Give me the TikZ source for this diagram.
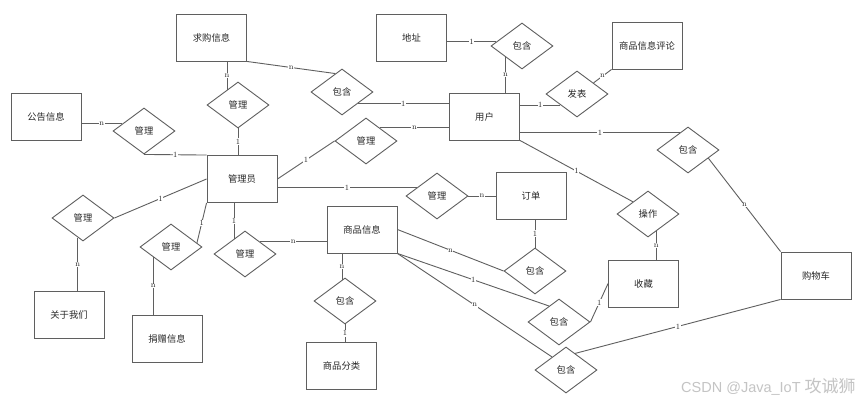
\documentclass[tikz,border=0pt]{standalone}
\usepackage{fontspec}
\newfontfamily\cjk{Noto Sans CJK SC}
\newfontfamily\wmlat{Liberation Sans}
\usetikzlibrary{shapes.geometric}
\definecolor{ln}{RGB}{95,95,95}
\definecolor{tx}{RGB}{40,40,40}
\definecolor{wm}{RGB}{196,196,196}
\begin{document}
\begin{tikzpicture}[x=1pt,y=-1pt,
  ent/.style={draw=ln, line width=0.9pt, fill=white, minimum width=70pt, minimum height=47pt, inner sep=0pt, font=\cjk\fontsize{9.3}{11}\selectfont, text=tx},
  rel/.style={diamond, draw=ln, line width=0.9pt, fill=white, minimum width=62pt, minimum height=46pt, inner sep=0pt, font=\cjk\fontsize{9.3}{11}\selectfont, text=tx},
  con/.style={draw=ln, line width=0.9pt},
  lbl/.style={fill=white, inner sep=0.6pt, font=\fontsize{8}{9}\selectfont, text=tx}]
\fill[white] (0,0) rectangle (865,401);
\useasboundingbox (0,0) rectangle (865,401);
% entities
\node[ent] (qg) at (211.5,37.5) {求购信息};
\node[ent] (gg) at (46,116.5) {公告信息};
\node[ent] (adm) at (242,179) {管理员};
\node[ent] (addr) at (411.5,37.5) {地址};
\node[ent] (usr) at (484.5,116.5) {用户};
\node[ent] (cmt) at (647,45.5) {商品信息评论};
\node[ent] (ord) at (531,196) {订单};
\node[ent] (goods) at (362,229.5) {商品信息};
\node[ent] (cat) at (341.5,366) {商品分类};
\node[ent] (about) at (69,315) {关于我们};
\node[ent] (don) at (167,338.5) {捐赠信息};
\node[ent] (fav) at (643.5,283.5) {收藏};
\node[ent] (cart) at (816,275.5) {购物车};
% relationships
\node[rel] (dq) at (238,105) {管理};
\node[rel] (dg) at (144,131) {管理};
\node[rel] (dbq) at (342,92) {包含};
\node[rel] (dad) at (522,46) {包含};
\node[rel] (dmu) at (366,141) {管理};
\node[rel] (dfb) at (577,94) {发表};
\node[rel] (dgw) at (688,150) {包含};
\node[rel] (dmo) at (437,196) {管理};
\node[rel] (dcz) at (648,214) {操作};
\node[rel] (dod) at (535,271) {包含};
\node[rel] (dab) at (83,218) {管理};
\node[rel] (djz) at (171,247) {管理};
\node[rel] (dsp) at (245,254) {管理};
\node[rel] (dfl) at (345,301) {包含};
\node[rel] (dsc) at (559,322) {包含};
\node[rel] (dcart) at (566,370) {包含};
% connectors
\draw[con] (qg.south -| dq.126) -- node[lbl]{n} (dq.126);
\draw[con] (dq.south) -- node[lbl]{1} (dq.south |- adm.north);
\draw[con] (qg.south east) -- node[lbl]{n} (dbq.110);
\draw[con] (dbq.323) -- node[lbl]{1} (dbq.323 -| usr.west);
\draw[con] (dmu.44) -- node[lbl]{n} (dmu.44 -| usr.west);
\draw[con] (adm.east) -- node[lbl]{1} (dmu.west);
\draw[con] (dmo.158 -| adm.east) -- node[lbl]{1} (dmo.158);
\draw[con] (dmo.east) -- node[lbl]{n} (ord.west);
\draw[con] (dod.north |- ord.south) -- node[lbl]{1} (dod.north);
\draw[con] (goods.east) -- node[lbl]{n} (dod.west);
\draw[con] (goods.south east) -- node[lbl]{1} (dsc.122);
\draw[con] (goods.south east) -- node[lbl]{n} (dcart.137);
\draw[con] (dsc.east) -- node[lbl]{1} (fav.west);
\draw[con] (dcart.61) -- node[lbl]{1} (cart.south west);
\draw[con] (usr.south east) -- node[lbl]{1} (dcz.141);
\draw[con] (dcz.295) -- node[lbl]{n} (dcz.295 |- fav.north);
\draw[con] (dgw.115 -| usr.east) -- node[lbl]{1} (dgw.115);
\draw[con] (dgw.338) -- node[lbl]{n} (cart.north west);
\draw[con] (dfb.214 -| usr.east) -- node[lbl]{1} (dfb.214);
\draw[con] (dfb.34) -- node[lbl]{n} (cmt.south west);
\draw[con] (dad.171 -| addr.east) -- node[lbl]{1} (dad.171);
\draw[con] (dad.214) -- node[lbl]{n} (dad.214 |- usr.north);
\draw[con] (dg.162 -| gg.east) -- node[lbl]{n} (dg.162);
\draw[con] (dg.south) -- node[lbl]{1} (adm.north west);
\draw[con] (adm.west) -- node[lbl]{1} (dab.east);
\draw[con] (dab.255) -- node[lbl]{n} (dab.255 |- about.north);
\draw[con] (adm.south west) -- node[lbl]{1} (djz.9);
\draw[con] (djz.210) -- node[lbl]{n} (djz.210 |- don.north);
\draw[con] (dsp.126 |- adm.south) -- node[lbl]{1} (dsp.126);
\draw[con] (dsp.39) -- node[lbl]{n} (dsp.39 -| goods.west);
\draw[con] (dfl.98 |- goods.south) -- node[lbl]{n} (dfl.98);
\draw[con] (dfl.south) -- node[lbl]{1} (dfl.south |- cat.north);
% watermark
\node[anchor=base west, inner sep=0pt, text=wm] (wmk) at (681,392) {\wmlat\fontsize{14.5}{16}\selectfont CSDN @Java\_IoT \cjk\fontsize{17}{16}\selectfont 攻诚狮};
\end{tikzpicture}
\end{document}
